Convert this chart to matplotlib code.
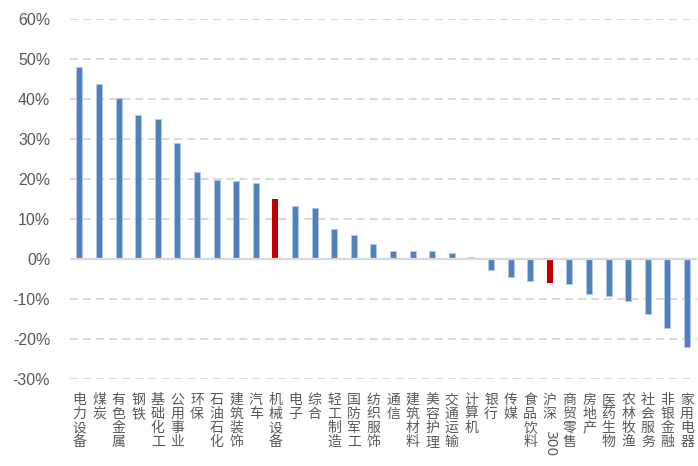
import matplotlib
matplotlib.use('Agg')
import matplotlib.pyplot as plt
import matplotlib.transforms as mtransforms
from matplotlib.ticker import FuncFormatter

plt.rcParams['font.family'] = ['Noto Sans CJK SC', 'DejaVu Sans']

# 申万一级行业区间涨跌幅 (%)
INDUSTRIES = ['电力设备', '煤炭', '有色金属', '钢铁', '基础化工', '公用事业', '环保',
              '石油石化', '建筑装饰', '汽车', '机械设备', '电子', '综合', '轻工制造',
              '国防军工', '纺织服饰', '通信', '建筑材料', '美容护理', '交通运输',
              '计算机', '银行', '传媒', '食品饮料', '沪深300', '商贸零售', '房地产',
              '医药生物', '农林牧渔', '社会服务', '非银金融', '家用电器']
CHANGES = [47.9, 43.8, 40.3, 36.0, 35.0, 29.1, 21.8, 19.8, 19.6, 18.9,
           14.9, 13.2, 12.7, 7.4, 6.1, 3.7, 2.1, 1.9, 1.9, 1.5,
           0.5, -2.7, -4.6, -5.4, -6.0, -6.2, -8.7, -9.2, -10.4, -13.7,
           -17.3, -21.9]
HIGHLIGHT = ['机械设备', '沪深300']
Y_TICKS = [-30, -20, -10, 0, 10, 20, 30, 40, 50, 60]

BLUE = '#4f81bd'
RED = '#c00000'
GRID = '#d9d9d9'
TEXT = '#595959'

fig = plt.figure(figsize=(6.98, 4.66), dpi=100)
ax = fig.add_axes([0.0997, 0.1867, 0.8986, 0.7725])

x = list(range(len(INDUSTRIES)))
colors = [RED if name in HIGHLIGHT else BLUE for name in INDUSTRIES]
edges = ['none' if name in HIGHLIGHT else '#b4c7e7' for name in INDUSTRIES]
ax.bar(x, CHANGES, width=0.3, color=colors, edgecolor=edges, linewidth=0.7,
       zorder=2)

ax.set_xlim(-0.5, len(INDUSTRIES) - 0.5)
ax.set_ylim(-30, 60)
ax.set_yticks(Y_TICKS)
ax.yaxis.set_major_formatter(FuncFormatter(lambda v, _: f'{v:.0f}%'))

for v in Y_TICKS:
    if v == 0:
        ax.axhline(0, color=GRID, linewidth=1.6, zorder=3)
    else:
        ax.axhline(v, color=GRID, linewidth=1.4, linestyle=(0, (4.1, 2.6)),
                   zorder=1)

for side in ['top', 'right', 'bottom', 'left']:
    ax.spines[side].set_visible(False)

# category labels written top-to-bottom, one character per line
labels = []
for name in INDUSTRIES:
    if name == '沪深300':
        labels.append('沪\n深')
    else:
        labels.append('\n'.join(name))
ax.set_xticks(x)
ax.set_xticklabels(labels, fontsize=10, color=TEXT, linespacing=1.0,
                   va='top')
ax.tick_params(axis='x', length=0, pad=10)
ax.tick_params(axis='y', length=0, pad=14, labelsize=11.5, labelcolor=TEXT)
for lbl in ax.get_yticklabels():
    lbl.set_family(['Liberation Sans', 'DejaVu Sans'])

# the digits of 沪深300 run sideways below the two characters
idx = INDUSTRIES.index('沪深300')
base = mtransforms.blended_transform_factory(ax.transData, ax.transAxes)
shifted = mtransforms.offset_copy(base, fig=fig, x=0, y=-52, units='dots')
ax.text(idx, 0, '300', transform=shifted, rotation=-90,
        rotation_mode='default', fontsize=10, color=TEXT,
        ha='center', va='top', family=['DejaVu Sans'])

fig.savefig('out.png', dpi=100)
